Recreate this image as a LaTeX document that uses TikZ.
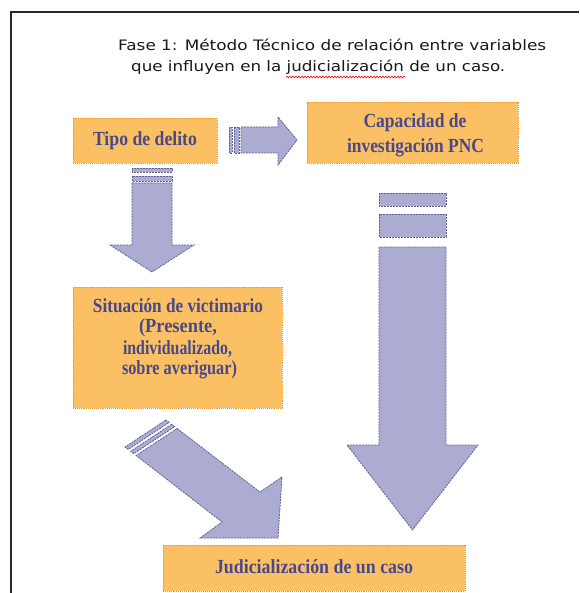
\documentclass[tikz,border=0pt]{standalone}
\usepackage{fontspec}
\usepackage{graphicx}
\usetikzlibrary{decorations.pathmorphing}
\newfontfamily\titlefont{DejaVu Sans}
\newfontfamily\boxfont{Liberation Serif}
\definecolor{boxfill}{RGB}{252,192,100}
\definecolor{boxline}{RGB}{232,156,48}
\definecolor{arrfill}{RGB}{172,172,210}
\definecolor{arrline}{RGB}{96,96,150}
\definecolor{txtc}{RGB}{72,72,138}
\definecolor{framec}{RGB}{40,40,40}
\tikzset{
  box/.style={draw=boxline, fill=boxfill, densely dotted, line width=0.9pt, inner sep=0pt},
  blockarrow/.style={draw=arrline, fill=arrfill, dash pattern=on 2pt off 1pt, line width=0.8pt, line join=miter},
  boxtext/.style={text=txtc, inner sep=0pt, font=\boxfont\fontsize{20}{22}\selectfont\bfseries},
  titletext/.style={text={rgb,255:red,25;green,25;blue,25}, inner sep=0pt, anchor=base west, font=\titlefont\fontsize{14.4}{16}\selectfont},
  frameline/.style={draw=framec, line width=1.5pt}
}
\begin{document}
\begin{tikzpicture}[x=1pt,y=-1pt]
\useasboundingbox (0,0) rectangle (579,593);
\fill[white] (0,0) rectangle (579,593);
% outer frame (only left and top edges visible)
\coordinate (fbl) at (11,593);
\coordinate (ftl) at (11,12);
\coordinate (ftr) at (579,12);
\draw[frameline] (fbl) -- (ftl) -- (ftr);

% title
\node[titletext] (title1) at (118,51) {\resizebox{428pt}{\height}{Fase 1: Método Técnico de relación entre variables}};
\node[titletext] (title2) at (131,72) {\resizebox{374pt}{\height}{que influyen en la judicialización de un caso.}};
\coordinate (sq1) at (286,77);
\coordinate (sq2) at (405,77);
\draw[red, line width=0.6pt, decorate, decoration={snake, segment length=3pt, amplitude=0.9pt}] (sq1) -- (sq2);

% boxes
\node[box, minimum width=144pt, minimum height=45pt] (tipo) at (145,140.5) {};
\node[box, minimum width=211pt, minimum height=61pt] (capac) at (412.5,132.5) {};
\node[box, minimum width=209pt, minimum height=121pt] (situ) at (177.5,347.5) {};
\node[box, minimum width=302pt, minimum height=46pt] (judi) at (314,568) {};

% box texts
\node[boxtext] (tipotxt) at (145,141) {\resizebox{104pt}{\height}{Tipo de delito}};
\node[boxtext] (cap1) at (415,123) {\resizebox{103pt}{\height}{Capacidad de}};
\node[boxtext] (cap2) at (415.5,148) {\resizebox{137pt}{\height}{investigación PNC}};
\node[boxtext] (sit1) at (178,306) {\resizebox{170pt}{\height}{Situación de victimario}};
\node[boxtext] (sit2) at (178,328) {\resizebox{78pt}{\height}{(Presente,}};
\node[boxtext] (sit3) at (177.5,349) {\resizebox{109pt}{\height}{individualizado,}};
\node[boxtext] (sit4) at (179.5,370) {\resizebox{115pt}{\height}{sobre averiguar)}};
\node[boxtext] (juditxt) at (314,567) {\resizebox{198pt}{\height}{Judicialización de un caso}};

% right arrow: Tipo -> Capacidad
\draw[blockarrow] (229,127) rectangle (232,153);
\draw[blockarrow] (234,127) rectangle (239,153);
\draw[blockarrow] (241,127) -- (278,127) -- (278,117) -- (297,140) -- (278,165) -- (278,153) -- (241,153) -- cycle;

% down arrow: Tipo -> Situacion
\draw[blockarrow] (132,168) rectangle (172,172);
\draw[blockarrow] (132,176) rectangle (172,181);
\draw[blockarrow] (132,183) -- (132,245) -- (110,245) -- (152,272) -- (194,245) -- (172,245) -- (172,183) -- cycle;

% big down arrow: Capacidad -> Judicializacion
\draw[blockarrow] (379,193) rectangle (446,206);
\draw[blockarrow] (379,214) rectangle (446,237);
\draw[blockarrow] (379,247) -- (379,445) -- (347,445) -- (412.5,530) -- (478,445) -- (446,445) -- (446,247) -- cycle;

% diagonal arrow: Situacion -> Judicializacion
\draw[blockarrow] (166,420) -- (125,447) -- (128.2,449.4) -- (169.2,422.4) -- cycle;
\draw[blockarrow] (171.6,424.3) -- (130.6,451.3) -- (133.7,453.7) -- (174.7,426.7) -- cycle;
\draw[blockarrow] (177.1,428.5) -- (260,492) -- (282,477) -- (278,538) -- (200,538) -- (222,522) -- (136.1,455.5) -- cycle;
\end{tikzpicture}
\end{document}
